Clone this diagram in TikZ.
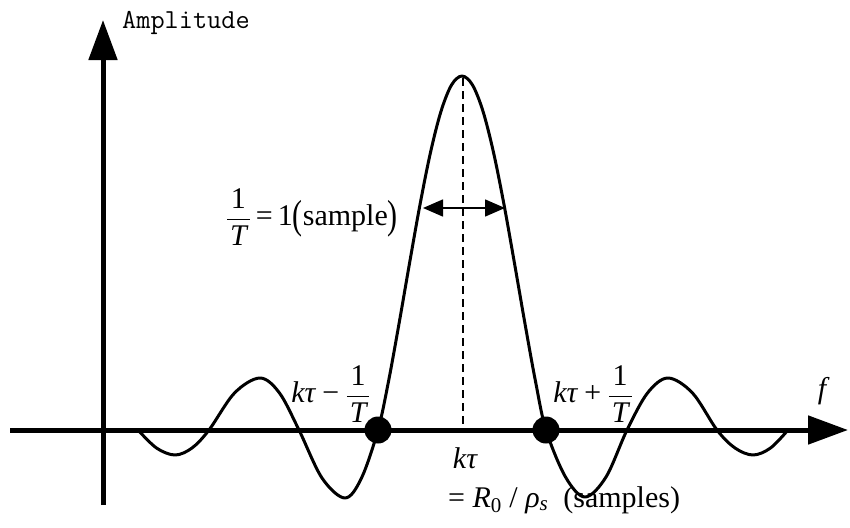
\documentclass[tikz,border=0pt]{standalone}
\usepackage{fontspec}
\setmainfont{Liberation Serif}
\usetikzlibrary{arrows.meta}
\newcommand{\fracTT}{\displaystyle\frac{\mbox{\rule[-4pt]{0pt}{4pt}1}}{\mbox{\kern3pt\rule{0pt}{25pt}\itshape T\kern3pt}}}
\newcommand{\bigparen}[1]{\raisebox{-0.12em}{\scalebox{1}[1.35]{#1}}}
\begin{document}
\begin{tikzpicture}[x=1pt,y=-1pt,
  axisline/.style={line width=5pt,-{Triangle[length=40pt,width=28pt]}},
  curveline/.style={line width=3pt,line join=round,line cap=round},
  dotnode/.style={circle,fill=black,inner sep=0pt,minimum size=27pt},
  lbl/.style={inner sep=0pt,font=\fontsize{30}{36}\selectfont},
  ttlbl/.style={inner sep=0pt,font=\fontsize{27.5}{32}\selectfont\ttfamily},
  dashline/.style={line width=1.5pt,dash pattern=on 8pt off 5pt},
  widtharrow/.style={line width=1.5pt,{Triangle[length=20pt,width=17pt]}-{Triangle[length=20pt,width=17pt]}}]
\useasboundingbox (0,0) rectangle (850,527);
% axes
\coordinate (xs) at (10,430);
\coordinate (xe) at (848,430);
\coordinate (ys) at (103,505);
\coordinate (ye) at (103,20);
\draw[axisline] (xs) -- (xe);
\draw[axisline] (ys) -- (ye);
% curve
\draw[curveline] plot[smooth,tension=0.55] coordinates {
 (138,430) (156.5,448) (175,455) (192,448) (209,430)
 (234.5,393) (260,378) (279.5,393) (299,430)
 (322,478) (345,498) (361.5,478) (378,430)
 (388.5,381.4) (399,323.8) (409.5,263.4) (420,204.6) (430.5,152.4) (441,111.3) (451.5,85) (462,76)
 (472.5,85) (483,111.3) (493.5,152.4) (504,204.6) (514.5,263.4) (525,323.8) (535.5,381.4) (546,430)
 (565.5,477) (585,497) (606,477) (627,430)
 (647.5,393) (668,378) (692.5,393) (717,430)
 (735,448) (753,455) (770.5,448) (788,430)};
% dashed centre line
\coordinate (peak) at (463,78);
\coordinate (kc) at (463,428);
\draw[dashline] (peak) -- (kc);
% width arrow
\coordinate (la) at (423,208);
\coordinate (ra) at (505,208);
\draw[widtharrow] (la) -- (ra);
% zero dots
\node[dotnode] (z1) at (378,430) {};
\node[dotnode] (z2) at (546,430) {};
% labels
\node[ttlbl,anchor=base west] (amp) at (122,29) {Amplitude};
\node[lbl,anchor=east] (wl) at (398,217) {$\fracTT\mbox{\,=\,1\bigparen{(}sample\bigparen{)}}$};
\node[lbl] (lm) at (331,394) {$\mbox{\itshape kτ\,−\,}\fracTT$};
\node[lbl] (lp) at (593,394) {$\mbox{\itshape kτ\,+\,}\fracTT$};
\node[lbl] (kt) at (465,458) {\itshape kτ};
\node[lbl,anchor=west] (rs) at (448,500) {= \textit{R}\textsubscript{0} / \textit{ρ}\textsubscript{\textit{s}}\ \ (samples)};
\node[lbl] (fl) at (822,391) {\itshape f};
\end{tikzpicture}
\end{document}
